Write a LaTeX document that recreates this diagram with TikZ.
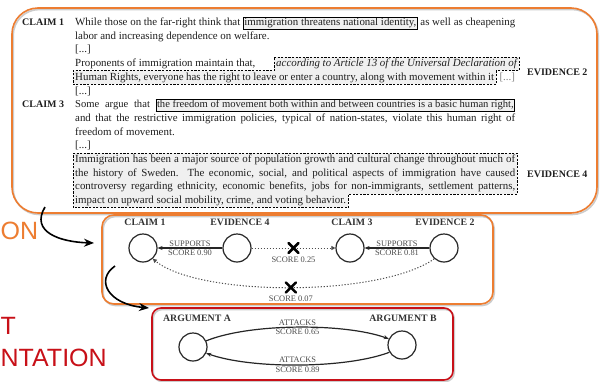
\documentclass[tikz,border=0pt]{standalone}
\usepackage{fontspec}
\setmainfont{Liberation Serif}
\newfontfamily\sansfam{Liberation Sans}
\usetikzlibrary{arrows.meta,backgrounds}
\definecolor{borange}{RGB}{237,125,49}
\definecolor{bred}{RGB}{200,16,24}
\definecolor{txtc}{gray}{0.12}
\newcommand\fl[2][440pt]{\hbox to #1{#2}}
\newcommand\cbx[1]{{\setlength\fboxsep{0.6pt}\setlength\fboxrule{0.8pt}\fcolorbox{black}{gray!12}{\rule[-2.5pt]{0pt}{9.8pt}#1}}}
\begin{document}
\begin{tikzpicture}[x=1pt,y=-1pt,
  tl/.style={anchor=base west,inner xsep=2pt,inner ysep=1.2pt,text height=8pt,text depth=2.7pt,font=\fontsize{10.9}{12}\selectfont,text=txtc},
  tag/.style={anchor=base west,inner sep=0pt,font=\fontsize{10}{11}\selectfont\bfseries,text=txtc},
  evbox/.style={draw=black,dash pattern=on 2.2pt off 1.4pt,line width=0.9pt,fill=gray!12},
  bigbox/.style={draw=borange,line width=1.6pt,inner sep=0pt,preaction={draw=black!20,line width=1.6pt,transform canvas={shift={(1.2pt,-1.5pt)}}}},
  circ/.style={circle,draw=black!85,line width=1.2pt,minimum size=28pt,inner sep=0pt},
  nlbl/.style={inner sep=0pt,font=\fontsize{9.8}{11}\selectfont\bfseries,text=black!80},
  elbl/.style={inner sep=1pt,font=\fontsize{8.4}{9}\selectfont,text=black!70},
  sup/.style={line width=1.2pt,draw=black!85,-{Stealth[length=5pt,width=4pt]}},
  dots/.style={dash pattern=on 1.2pt off 1.8pt,line width=1pt,draw=black!70,-{Triangle[length=4pt,width=4pt]}},
  xnode/.style={inner sep=0pt,minimum size=9pt},
  xm/.style={line width=2.6pt,line cap=round},
  flow/.style={line width=1.6pt,-{Stealth[length=10pt,width=8pt]}},
  side/.style={anchor=west,inner sep=0pt,font=\sansfam\fontsize{25}{27}\selectfont}
]
\useasboundingbox (0,0) rectangle (603,381);
\begin{scope}[on background layer]
  \fill[white] (0,0) rectangle (603,381);
\end{scope}

% big boxes
\node[bigbox,rounded corners=26pt,minimum width=585pt,minimum height=205pt] (topbox) at (304.5,110.5) {};
\node[bigbox,rounded corners=12pt,minimum width=391pt,minimum height=89pt] (midbox) at (297.5,259.5) {};
\node[bigbox,draw=bred,rounded corners=9pt,minimum width=301pt,minimum height=72pt] (redbox) at (302.5,344) {};

% side texts
\node[side,text=borange] (sideon) at (0.5,231) {ON};
\node[side,text=bred] (sidet) at (0.5,326) {T};
\node[side,text=bred] (sidentation) at (0.5,358) {NTATION};

% top text
\node[tag] (t1) at (22,25.5) {CLAIM 1};
\node[tl] (l1) at (73,25.5) {\fl{While those on the far-right think that \cbx{immigration threatens national identity,} as well as cheapening}};
\node[tl] (l2) at (73,39.2) {labor and increasing dependence on welfare.};
\node[tl] (l3) at (73,52.9) {[...]};
\node[tl] (l4a) at (73,66.6) {Proponents of immigration maintain that,};
\node[tl,anchor=base east] (l4b) at (519,66.6) {\itshape according to Article 13 of the Universal Declaration of};
\node[tl] (l5) at (73,80.3) {\fl[419pt]{Human Rights, everyone has the right to leave or enter a country, along with movement within it}};
\node[tl,text=gray] (l5r) at ([xshift=1pt]l5.base east) {[...]};
\node[tag] (ev2) at (527,75.5) {EVIDENCE 2};
\node[tl] (l6) at (73,94) {[...]};
\node[tag] (t3) at (22,107.7) {CLAIM 3};
\node[tl,font=\fontsize{10.6}{12}\selectfont] (l7) at (73,107.7) {\fl{Some argue that \cbx{the freedom of movement both within and between countries is a basic human right,}}};
\node[tl] (l8) at (73,121.4) {\fl{and that the restrictive immigration policies, typical of nation-states, violate this human right of}};
\node[tl] (l9) at (73,135.1) {freedom of movement.};
\node[tl] (l10) at (73,148.8) {[...]};
\node[tl] (e1) at (73,162.5) {\fl{Immigration has been a major source of population growth and cultural change throughout much of}};
\node[tl] (e2l) at (73,176.2) {\fl{the history of Sweden. The economic, social, and political aspects of immigration have caused}};
\node[tl] (e3l) at (73,189.9) {\fl{controversy regarding ethnicity, economic benefits, jobs for non-immigrants, settlement patterns,}};
\node[tl] (e4l) at (73,203.6) {impact on upward social mobility, crime, and voting behavior.};
\node[tag] (ev4) at (527,177) {EVIDENCE 4};

\begin{scope}[on background layer]
  \draw[evbox] (l4b.north west) -- (l4b.north east) -- (l4b.south east) -- (l4b.south east -| l5.east) -- (l5.south east) -- (l5.south west) -- (l5.north west |- l4b.south) -- (l4b.south west) -- cycle;
  \draw[evbox] (e1.north west) -- (e1.north east) -- (e3l.south east) -- (e3l.south east -| e4l.east) -- (e4l.south east) -- (e4l.south west) -- cycle;
\end{scope}

% middle graph
\node[circ] (c1) at (143,248) {};
\node[circ] (e4) at (237,248) {};
\node[circ] (c3) at (350,248) {};
\node[circ] (e2) at (444,248) {};
\node[nlbl] (lc1) at (145,222) {CLAIM 1};
\node[nlbl] (le4) at (240,222) {EVIDENCE 4};
\node[nlbl] (lc3) at (352,222) {CLAIM 3};
\node[nlbl] (le2) at (445,222) {EVIDENCE 2};

\draw[sup] (e4) -- (c1) node[midway,above=0.3pt,elbl] {SUPPORTS} node[midway,below=0.3pt,elbl] {SCORE 0.90};
\draw[sup] (e2) -- (c3) node[midway,above=0.3pt,elbl] {SUPPORTS} node[midway,below=0.3pt,elbl] {SCORE 0.81};
\draw[dots] (e4) -- node[pos=.5,xnode] (x1) {} (c3);
\draw[xm] (x1.north west) -- (x1.south east) (x1.north east) -- (x1.south west);
\node[elbl,anchor=north] (s1) at ([yshift=-3pt]x1.south) {SCORE 0.25};
\draw[dots] (e2.228) .. controls (380,297) and (200,297) .. node[pos=.5,xnode] (x2) {} (c1.-48);
\draw[xm] (x2.north west) -- (x2.south east) (x2.north east) -- (x2.south west);
\node[elbl,anchor=north] (s2) at ([yshift=-2pt]x2.south) {SCORE 0.07};

% bottom graph
\node[circ] (aa) at (193,347) {};
\node[circ] (ab) at (402,345) {};
\node[nlbl] (laa) at (197,318) {ARGUMENT A};
\node[nlbl] (lab) at (403,318) {ARGUMENT B};
\draw[sup] (aa.25) .. controls (250,323) and (345,323) .. node[pos=.5,above=0.3pt,elbl] {ATTACKS} node[pos=.5,below=0.3pt,elbl] {SCORE 0.65} (ab.155);
\draw[sup] (ab.-150) .. controls (345,369) and (250,369) .. node[pos=.5,above=0.3pt,elbl] {ATTACKS} node[pos=.5,below=0.3pt,elbl] {SCORE 0.89} (aa.-25);

% flow arrows
\coordinate (f1s) at (45,207);
\coordinate (f1e) at (94,243);
\coordinate (f2s) at (115,266);
\coordinate (f2e) at (149,308);
\draw[flow] (f1s) .. controls (30,232) and (60,242) .. (f1e);
\draw[flow] (f2s) .. controls (95,280) and (108,304) .. (f2e);
\end{tikzpicture}
\end{document}
